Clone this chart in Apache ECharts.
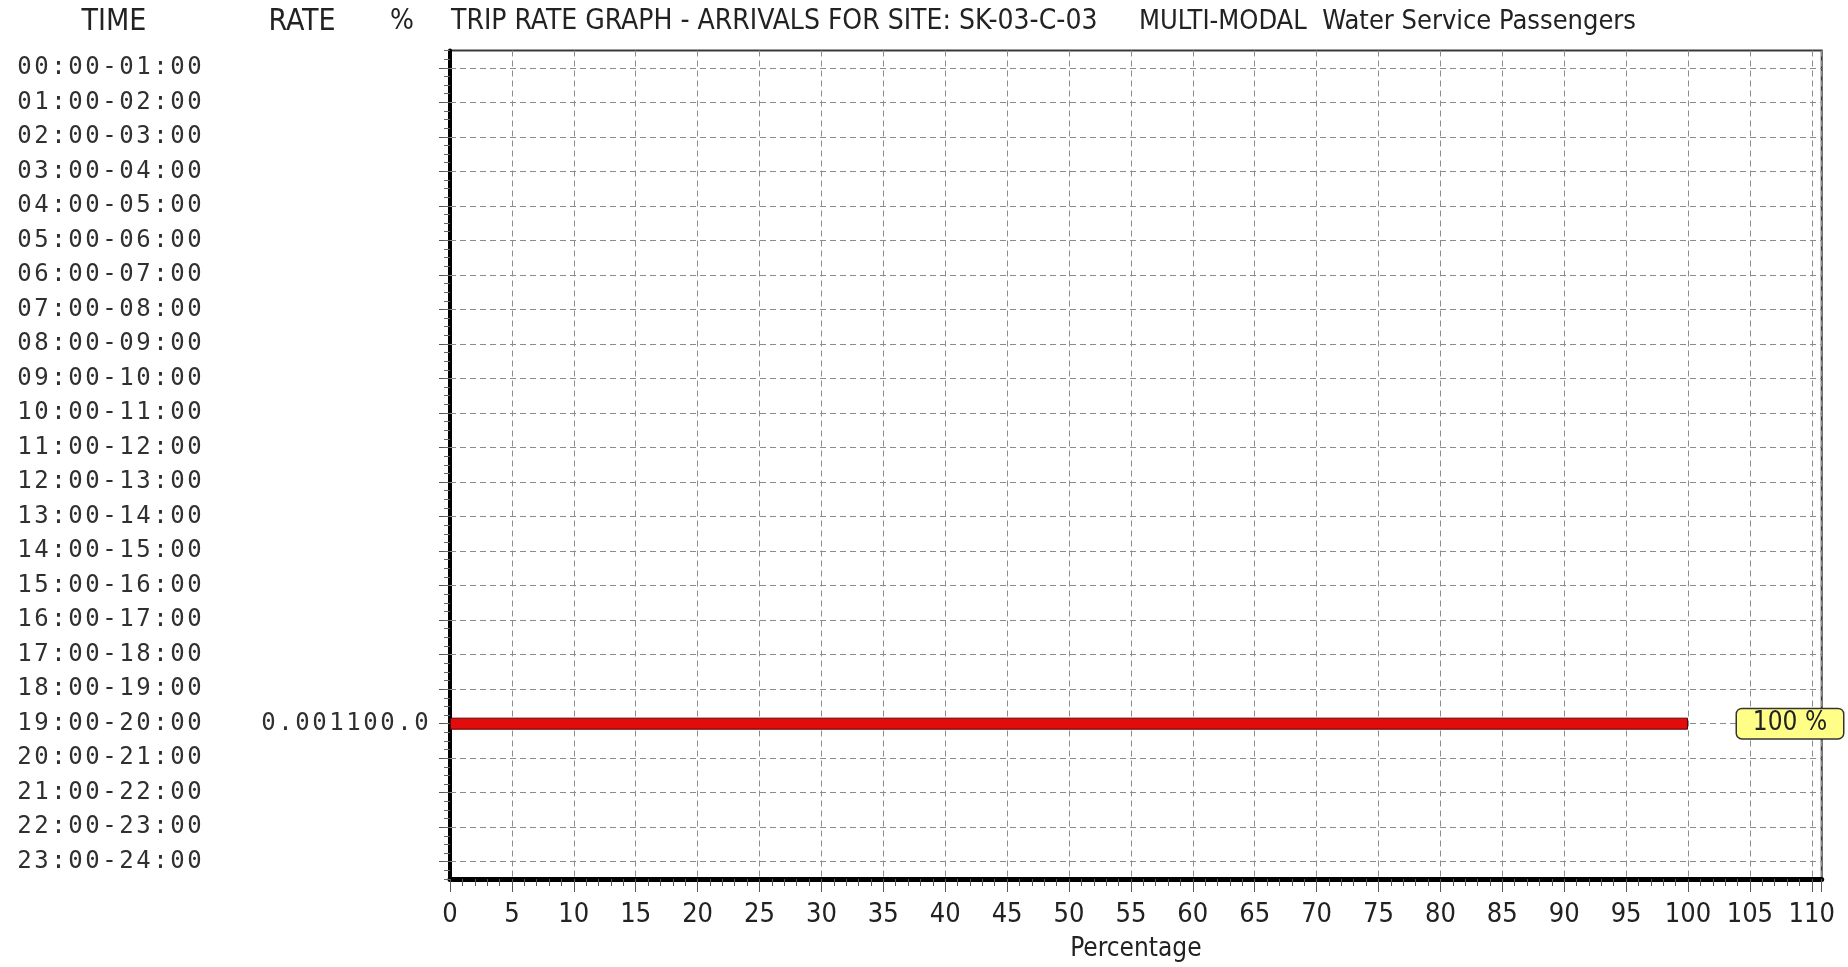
<!DOCTYPE html>
<html>
<head>
<meta charset="utf-8">
<script src="https://cdn.jsdelivr.net/npm/echarts@6/dist/echarts.min.js"></script>
<style>
  html, body { margin: 0; padding: 0; background: #ffffff; }
  #chart { width: 1848px; height: 967px; }
</style>
</head>
<body>
<div id="chart"></div>
<script>
// Hourly time bands (rows of the graph)
const timeBands = [
  '00:00-01:00', '01:00-02:00', '02:00-03:00', '03:00-04:00', '04:00-05:00', '05:00-06:00',
  '06:00-07:00', '07:00-08:00', '08:00-09:00', '09:00-10:00', '10:00-11:00', '11:00-12:00',
  '12:00-13:00', '13:00-14:00', '14:00-15:00', '15:00-16:00', '16:00-17:00', '17:00-18:00',
  '18:00-19:00', '19:00-20:00', '20:00-21:00', '21:00-22:00', '22:00-23:00', '23:00-24:00'
];

// Arrival trip rate per band (null = no arrivals)
const tripRate = [
  null, null, null, null, null, null, null, null, null, null, null, null,
  null, null, null, null, null, null, null, 0.001, null, null, null, null
];

// Share of the daily arrivals per band, in percent
const tripPercent = [
  null, null, null, null, null, null, null, null, null, null, null, null,
  null, null, null, null, null, null, null, 100, null, null, null, null
];

const headerTexts = {
  time: 'TIME',
  rate: 'RATE',
  pct: '%',
  title: 'TRIP RATE GRAPH - ARRIVALS FOR SITE: SK-03-C-03',
  subtitle: 'MULTI-MODAL  Water Service Passengers'
};
const xAxisName = 'Percentage';

const narrowFont = "'Liberation Sans Narrow', 'DejaVu Sans Condensed', 'Arial Narrow', sans-serif";
const monoFont = "'DejaVu Sans Mono', 'Liberation Mono', monospace";
const gridDash = { type: [6, 4], color: '#8c8c8c', width: 1 };

// Fixed-pitch cells so the mono labels keep the wide terminal spacing
function monoCells(str) {
  return String(str).split('').map(ch => '{c|' + (ch === ' ' ? '\u00a0' : ch) + '}').join('');
}
const monoRich = {
  c: { width: 17, align: 'center', fontFamily: monoFont, fontSize: 24, color: '#303030' }
};

const rateLabels = tripRate.map((r, i) =>
  r == null ? '' : r.toFixed(3) + tripPercent[i].toFixed(1));

const headerStyle = { fontFamily: narrowFont, fontSize: 28, fontWeight: 'normal', color: '#222' };
const subHeaderStyle = { fontFamily: narrowFont, fontSize: 27, fontWeight: 'normal', color: '#222' };
const wideHeaderStyle = { fontFamily: narrowFont, fontSize: 30, fontWeight: 'normal', color: '#222' };

const chart = echarts.init(document.getElementById('chart'), null, { renderer: 'canvas' });

chart.setOption({
  backgroundColor: '#ffffff',
  animation: false,
  title: [
    { text: headerTexts.time, left: 114, top: 7, textAlign: 'center', padding: 0, textStyle: wideHeaderStyle },
    { text: headerTexts.rate, left: 302, top: 7, textAlign: 'center', padding: 0, textStyle: wideHeaderStyle },
    { text: headerTexts.pct, left: 402, top: 8, textAlign: 'center', padding: 0, textStyle: headerStyle },
    { text: headerTexts.title, left: 451, top: 8, padding: 0, textStyle: headerStyle },
    { text: headerTexts.subtitle, left: 1139, top: 8, padding: 0, textStyle: subHeaderStyle }
  ],
  grid: {
    left: 450, top: 50.5, right: 26.3, bottom: 86,
    show: true, borderColor: '#3a3a3a', borderWidth: 2, backgroundColor: 'transparent'
  },
  xAxis: [
    {
      type: 'value', min: 0, max: 110.8, interval: 5, position: 'bottom',
      axisLine: { show: true, onZero: false, lineStyle: { color: '#000000', width: 5 } },
      axisTick: { show: true, length: 13, lineStyle: { color: '#555555', width: 1 } },
      axisLabel: {
        margin: 22, fontFamily: narrowFont, fontSize: 27, color: '#222',
        formatter: v => (Math.abs(v % 5) < 1e-9 ? String(v) : '')
      },
      splitLine: { show: true, lineStyle: gridDash },
      name: xAxisName, nameLocation: 'middle', nameGap: 57,
      nameTextStyle: { fontFamily: narrowFont, fontSize: 26, color: '#222' }
    },
    {
      type: 'value', min: 0, max: 110.8, interval: 1, position: 'bottom',
      axisLine: { show: false, onZero: false },
      axisTick: { show: true, length: 7, lineStyle: { color: '#555555', width: 1 } },
      axisLabel: { show: false },
      splitLine: { show: false }
    }
  ],
  yAxis: [
    {
      type: 'category', data: timeBands, inverse: true, boundaryGap: true, position: 'left',
      axisLine: { show: true, onZero: false, lineStyle: { color: '#000000', width: 4 } },
      axisTick: { show: true, alignWithLabel: true, length: 11, lineStyle: { color: '#555555', width: 1 } },
      axisLabel: { margin: 434, align: 'left', formatter: v => monoCells(v), rich: monoRich },
      splitLine: { show: false }
    },
    {
      type: 'category', data: timeBands, inverse: true, boundaryGap: true, position: 'left',
      axisLine: { show: false, onZero: false }, axisTick: { show: false },
      axisLabel: { margin: 20, formatter: (v, i) => monoCells(rateLabels[i]), rich: monoRich },
      splitLine: { show: false }
    },
    {
      type: 'value', min: 0, max: 24, interval: 0.25, inverse: true, position: 'left',
      axisLine: { show: false, onZero: false },
      axisTick: { show: true, length: 6, lineStyle: { color: '#666666', width: 1 } },
      axisLabel: { show: false },
      splitLine: { show: false }
    }
  ],
  series: [
    {
      name: 'Arrivals',
      type: 'bar',
      xAxisIndex: 0,
      yAxisIndex: 0,
      z: 10,
      barWidth: 12,
      data: tripPercent,
      itemStyle: { color: '#e30c0c', borderColor: '#5a0000', borderWidth: 1 },
      label: {
        show: true,
        position: 'right',
        distance: 49,
        formatter: p => '{t|' + p.value + ' %}',
        rich: { t: { width: 106, align: 'center', fontFamily: narrowFont, fontSize: 26, color: '#222', lineHeight: 23 } },
        backgroundColor: '#ffff88',
        borderColor: '#333333',
        borderWidth: 1.5,
        borderRadius: 5,
        padding: [3, 0, 3, 0]
      },
      markLine: {
        silent: true,
        z: 1,
        symbol: 'none',
        label: { show: false },
        lineStyle: gridDash,
        emphasis: { disabled: true },
        data: timeBands.map(t => ({ yAxis: t }))
      }
    }
  ]
});
</script>
</body>
</html>
